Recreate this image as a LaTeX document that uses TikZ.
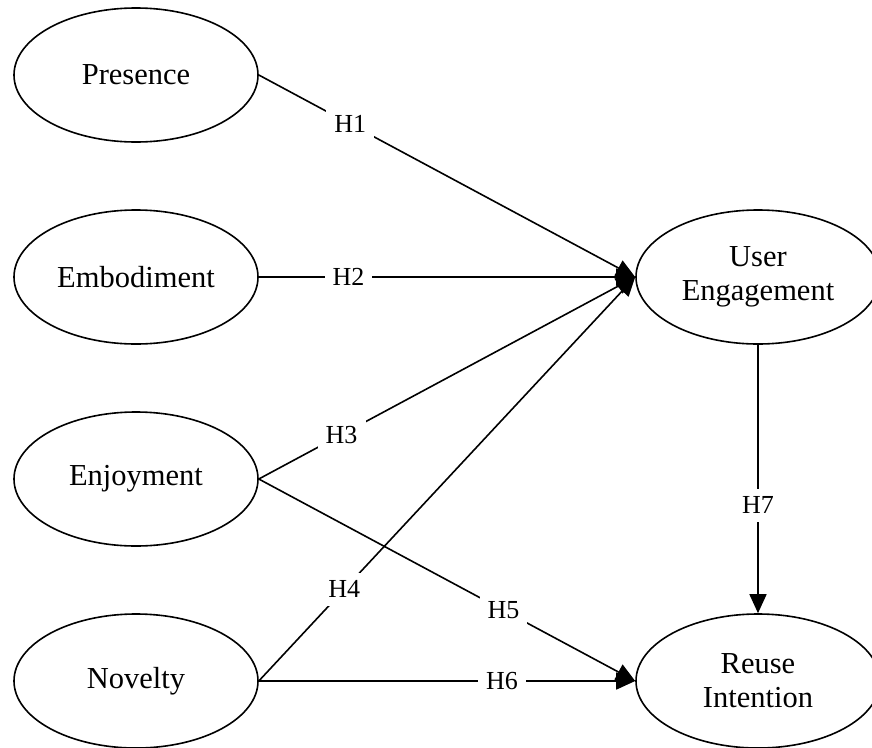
\documentclass[tikz,border=0pt]{standalone}
\usepackage{fontspec}
\setmainfont{Liberation Serif}
\usetikzlibrary{shapes.geometric,arrows.meta}
\begin{document}
\begin{tikzpicture}[x=1pt,y=-1pt,
  construct/.style={draw,ellipse,line width=1.6pt,minimum width=244pt,minimum height=134pt,inner sep=0pt,align=center,font=\fontsize{30.5}{34}\selectfont},
  hlabel/.style={fill=white,inner sep=8pt,font=\fontsize{26}{28}\selectfont},
  path/.style={line width=1.6pt,-{Triangle[length=19pt,width=17pt]}},
  plain/.style={line width=1.6pt}]
\useasboundingbox (0,0) rectangle (872,747);
\node[construct] (pres) at (136,75) {Presence};
\node[construct] (emb) at (136,277) {Embodiment};
\node[construct] (enj) at (136,479) {Enjoyment};
\node[construct] (nov) at (136,681) {Novelty};
\node[construct] (ue) at (758,277) {User\\Engagement};
\node[construct] (ri) at (758,681) {Reuse\\Intention};
\draw[path] (pres.east) -- node[hlabel,pos=0.243]{H1} (ue.west);
\draw[path] (emb.east) -- node[hlabel,pos=0.238]{H2} (ue.west);
\draw[path] (enj.east) -- node[hlabel,pos=0.22]{H3} (ue.west);
\draw[path] (nov.east) -- node[hlabel,pos=0.227]{H4} (ue.west);
\draw[path] (enj.east) -- node[hlabel,pos=0.65]{H5} (ri.west);
\draw[path] (nov.east) -- node[hlabel,pos=0.646]{H6} (ri.west);
\draw[path] (ue.south) -- node[hlabel,pos=0.597]{H7} (ri.north);
\end{tikzpicture}
\end{document}
